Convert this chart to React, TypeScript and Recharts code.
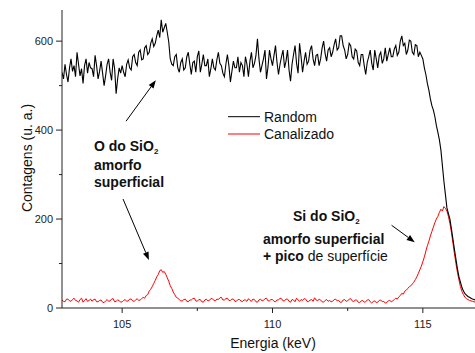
import React from 'react';
import { LineChart, Line, XAxis, YAxis, ReferenceLine } from 'recharts';

// energia de cada canal (keV)
const energy = [
  103.00, 103.05, 103.10, 103.15, 103.20, 103.25, 103.30, 103.35, 103.40, 103.45, 103.50, 103.55, 103.60, 103.65, 103.70, 103.75, 103.80, 103.85, 103.90, 103.95,
  104.00, 104.05, 104.10, 104.15, 104.20, 104.25, 104.30, 104.35, 104.40, 104.45, 104.50, 104.55, 104.60, 104.65, 104.70, 104.75, 104.80, 104.85, 104.90, 104.95,
  105.00, 105.05, 105.10, 105.15, 105.20, 105.25, 105.30, 105.35, 105.40, 105.45, 105.50, 105.55, 105.60, 105.65, 105.70, 105.75, 105.80, 105.85, 105.90, 105.95,
  106.00, 106.05, 106.10, 106.15, 106.20, 106.25, 106.30, 106.35, 106.40, 106.45, 106.50, 106.55, 106.60, 106.65, 106.70, 106.75, 106.80, 106.85, 106.90, 106.95,
  107.00, 107.05, 107.10, 107.15, 107.20, 107.25, 107.30, 107.35, 107.40, 107.45, 107.50, 107.55, 107.60, 107.65, 107.70, 107.75, 107.80, 107.85, 107.90, 107.95,
  108.00, 108.05, 108.10, 108.15, 108.20, 108.25, 108.30, 108.35, 108.40, 108.45, 108.50, 108.55, 108.60, 108.65, 108.70, 108.75, 108.80, 108.85, 108.90, 108.95,
  109.00, 109.05, 109.10, 109.15, 109.20, 109.25, 109.30, 109.35, 109.40, 109.45, 109.50, 109.55, 109.60, 109.65, 109.70, 109.75, 109.80, 109.85, 109.90, 109.95,
  110.00, 110.05, 110.10, 110.15, 110.20, 110.25, 110.30, 110.35, 110.40, 110.45, 110.50, 110.55, 110.60, 110.65, 110.70, 110.75, 110.80, 110.85, 110.90, 110.95,
  111.00, 111.05, 111.10, 111.15, 111.20, 111.25, 111.30, 111.35, 111.40, 111.45, 111.50, 111.55, 111.60, 111.65, 111.70, 111.75, 111.80, 111.85, 111.90, 111.95,
  112.00, 112.05, 112.10, 112.15, 112.20, 112.25, 112.30, 112.35, 112.40, 112.45, 112.50, 112.55, 112.60, 112.65, 112.70, 112.75, 112.80, 112.85, 112.90, 112.95,
  113.00, 113.05, 113.10, 113.15, 113.20, 113.25, 113.30, 113.35, 113.40, 113.45, 113.50, 113.55, 113.60, 113.65, 113.70, 113.75, 113.80, 113.85, 113.90, 113.95,
  114.00, 114.05, 114.10, 114.15, 114.20, 114.25, 114.30, 114.35, 114.40, 114.45, 114.50, 114.55, 114.60, 114.65, 114.70, 114.75, 114.80, 114.85, 114.90, 114.95,
  115.00, 115.05, 115.10, 115.15, 115.20, 115.25, 115.30, 115.35, 115.40, 115.45, 115.50, 115.55, 115.60, 115.65, 115.70, 115.75, 115.80, 115.85, 115.90, 115.95,
  116.00, 116.05, 116.10, 116.15, 116.20, 116.25, 116.30, 116.35, 116.40, 116.45, 116.50, 116.55, 116.60, 116.65, 116.70, 116.75, 116.80,
];

// espectro Random (preto)
const randomCounts = [
  530, 515, 548, 525, 508, 540, 560, 532, 545, 520, 575, 548, 522, 538, 505, 545, 560, 528, 552, 540,
  538, 520, 568, 545, 515, 532, 555, 528, 500, 522, 548, 560, 530, 512, 560, 538, 482, 515, 540, 528,
  545, 530, 520, 548, 558, 540, 535, 565, 570, 552, 545, 575, 580, 558, 560, 585, 590, 570, 575, 595,
  605, 588, 595, 612, 625, 608, 648, 620, 630, 640, 620, 598, 560, 548, 545, 565, 570, 540, 530, 552,
  560, 535, 540, 565, 575, 548, 525, 552, 555, 530, 565, 578, 530, 548, 570, 545, 545, 560, 520, 538,
  560, 540, 535, 558, 575, 550, 545, 528, 520, 548, 570, 545, 508, 532, 555, 540, 540, 565, 530, 552,
  545, 520, 565, 548, 520, 555, 575, 540, 550, 568, 605, 560, 530, 545, 560, 580, 515, 542, 580, 560,
  545, 568, 590, 552, 525, 548, 565, 580, 540, 555, 580, 535, 510, 548, 570, 590, 550, 528, 595, 565,
  530, 555, 575, 548, 555, 580, 590, 560, 545, 568, 570, 545, 560, 585, 600, 572, 555, 580, 585, 565,
  575, 592, 605, 580, 585, 612, 612, 590, 580, 560, 570, 595, 590, 565, 560, 582, 578, 552, 545, 570,
  570, 545, 525, 552, 565, 580, 550, 535, 580, 560, 540, 568, 575, 550, 560, 585, 555, 570, 585, 565,
  565, 582, 590, 568, 575, 600, 612, 590, 595, 570, 580, 602, 600, 575, 570, 592, 590, 565, 575, 568,
  560, 540, 525, 505, 490, 470, 455, 445, 430, 410, 395, 378, 355, 320, 285, 255, 225, 212, 200, 178,
  155, 132, 110, 88, 70, 58, 46, 38, 32, 29, 26, 24, 22, 20, 19, 18, 17,
];

// espectro canalizado (vermelho)
const canalizadoCounts = [
  18, 15, 14, 20, 20, 16, 15, 19, 22, 17, 16, 13, 19, 22, 13, 17, 21, 15, 17, 20,
  15, 19, 20, 14, 14, 17, 18, 13, 12, 16, 19, 15, 16, 20, 21, 14, 15, 18, 17, 13,
  14, 17, 19, 15, 16, 20, 20, 16, 15, 18, 21, 17, 18, 21, 24, 22, 28, 30, 38, 42,
  48, 55, 62, 70, 75, 84, 86, 80, 82, 76, 68, 60, 50, 44, 36, 30, 24, 22, 19, 16,
  16, 19, 20, 15, 14, 18, 18, 21, 22, 16, 15, 19, 19, 14, 13, 18, 20, 16, 17, 21,
  21, 17, 16, 20, 19, 23, 24, 18, 18, 21, 22, 17, 17, 20, 20, 15, 15, 19, 19, 16,
  14, 18, 18, 15, 21, 17, 15, 20, 19, 14, 13, 18, 20, 16, 17, 21, 22, 16, 16, 19,
  19, 15, 14, 18, 18, 22, 21, 16, 16, 20, 20, 15, 13, 19, 18, 14, 22, 18, 15, 19,
  17, 21, 20, 15, 14, 18, 19, 15, 23, 18, 16, 20, 18, 14, 13, 17, 19, 15, 17, 14,
  15, 19, 20, 16, 17, 13, 13, 18, 19, 15, 16, 20, 21, 16, 14, 18, 18, 13, 12, 16,
  17, 13, 14, 18, 19, 14, 11, 15, 16, 12, 13, 17, 18, 14, 15, 11, 12, 16, 17, 14,
  16, 19, 22, 20, 25, 28, 33, 31, 38, 40, 44, 48, 50, 54, 58, 64, 70, 78, 86, 94,
  104, 115, 128, 140, 150, 162, 172, 182, 192, 200, 206, 215, 222, 218, 228, 224, 218, 206, 190, 170,
  146, 122, 100, 80, 63, 48, 37, 30, 24, 21, 19, 17, 16, 15, 14, 13, 12,
];

const xTicks = [105, 107.5, 110, 112.5, 115];
const yTicks = [0, 100, 200, 300, 400, 500, 600];

// setas das anotações (em coordenadas de dados)
const arrows = [
  { x1: 105.13, y1: 420, x2: 106.12, y2: 512 },
  { x1: 105.03, y1: 245, x2: 105.89, y2: 108 },
  { x1: 113.96, y1: 186, x2: 114.73, y2: 148 },
];

const data = energy.map((e, i) => ({
  e,
  random: randomCounts[i],
  canalizado: canalizadoCounts[i],
}));

const FONT = '"Liberation Sans", Arial, sans-serif';
const AXIS = '#222';

const BottomTick = ({ x, y, payload }: any) => {
  const major = Number.isInteger(payload.value);
  return (
    <g>
      <line x1={x} y1={y} x2={x} y2={y + (major ? 5 : 3)} stroke={AXIS} />
      {major && (
        <text x={x} y={y + 20} textAnchor="middle" fontSize={11} fill={AXIS} fontFamily={FONT}>
          {payload.value}
        </text>
      )}
    </g>
  );
};

const TopTick = ({ x, y }: any) => (
  <line x1={x} y1={y} x2={x} y2={y + 2} stroke={AXIS} />
);

const LeftTick = ({ x, y, payload }: any) => {
  const major = payload.value % 200 === 0;
  return (
    <g>
      <line x1={x - (major ? 6 : 3)} y1={y} x2={x} y2={y} stroke={AXIS} />
      {major && (
        <text x={x - 9} y={y + 4} textAnchor="end" fontSize={11} fill={AXIS} fontFamily={FONT}>
          {payload.value}
        </text>
      )}
    </g>
  );
};

const Arrow = (props: any) => {
  const { x1, y1, x2, y2 } = props;
  const ang = Math.atan2(y2 - y1, x2 - x1);
  const len = 8;
  const w = 3;
  const bx = x2 - len * Math.cos(ang);
  const by = y2 - len * Math.sin(ang);
  const px = -Math.sin(ang) * w;
  const py = Math.cos(ang) * w;
  return (
    <g>
      <line x1={x1} y1={y1} x2={bx} y2={by} stroke="#000" strokeWidth={1} />
      <polygon points={`${x2},${y2} ${bx + px},${by + py} ${bx - px},${by - py}`} fill="#000" />
    </g>
  );
};

const App = () => {
  return (
    <div style={{ position: 'fixed', left: 0, top: 0, width: 475, height: 353, overflow: 'hidden', background: '#fff' }}>
      <LineChart width={490} height={353} data={data} margin={{ top: 10, right: 7, bottom: 0, left: 0 }}>
        <XAxis
          dataKey="e"
          type="number"
          domain={[103, 117]}
          ticks={xTicks}
          allowDataOverflow
          height={45}
          stroke={AXIS}
          tickLine={false}
          tickSize={0}
          tickMargin={0}
          tick={<BottomTick />}
          interval={0}
        />
        <XAxis
          xAxisId="top"
          dataKey="e"
          type="number"
          orientation="top"
          domain={[103, 117]}
          ticks={xTicks}
          allowDataOverflow
          height={0}
          stroke={AXIS}
          tickLine={false}
          tickSize={0}
          tickMargin={0}
          tick={<TopTick />}
          interval={0}
        />
        <YAxis
          type="number"
          domain={[0, 670]}
          ticks={yTicks}
          allowDataOverflow
          width={62}
          stroke={AXIS}
          tickLine={false}
          tickSize={0}
          tickMargin={0}
          tick={<LeftTick />}
          interval={0}
        />
        <Line type="linear" dataKey="canalizado" stroke="#ff0000" strokeWidth={1} dot={false} isAnimationActive={false} />
        <Line type="linear" dataKey="random" stroke="#000000" strokeWidth={1.1} dot={false} isAnimationActive={false} />
        {arrows.map((a, i) => (
          <ReferenceLine
            key={i}
            segment={[{ x: a.x1, y: a.y1 }, { x: a.x2, y: a.y2 }]}
            ifOverflow="visible"
            shape={(p: any) => <Arrow {...p} />}
          />
        ))}
      </LineChart>
      <svg width={475} height={353} style={{ position: 'absolute', left: 0, top: 0, pointerEvents: 'none' }} fontFamily={FONT}>
        <text x={273} y={348} textAnchor="middle" fontSize={14} fill="#111">Energia (keV)</text>
        <text transform="translate(32,158) rotate(-90)" textAnchor="middle" fontSize={14} fill="#111">Contagens (u. a.)</text>

        <line x1={228} y1={116.7} x2={260} y2={116.7} stroke="#000" />
        <text x={264} y={122.3} fontSize={14} fill="#111">Random</text>
        <line x1={228} y1={134} x2={260} y2={134} stroke="#ff0000" />
        <text x={264} y={139} fontSize={14} fill="#111">Canalizado</text>

        <g fontWeight={700} fontSize={14} fill="#111">
          <text x={94} y={150.7}>O do SiO<tspan fontSize={8} dy={3}>2</tspan></text>
          <text x={94} y={170}>amorfo</text>
          <text x={94} y={187.3}>superficial</text>
          <text x={293} y={220.7}>Si do SiO<tspan fontSize={8} dy={3}>2</tspan></text>
          <text x={263} y={244}>amorfo superficial</text>
          <text x={263} y={260.7}>+ pico<tspan fontWeight={400}> de superfície</tspan></text>
        </g>
      </svg>
    </div>
  );
};

export default App;
